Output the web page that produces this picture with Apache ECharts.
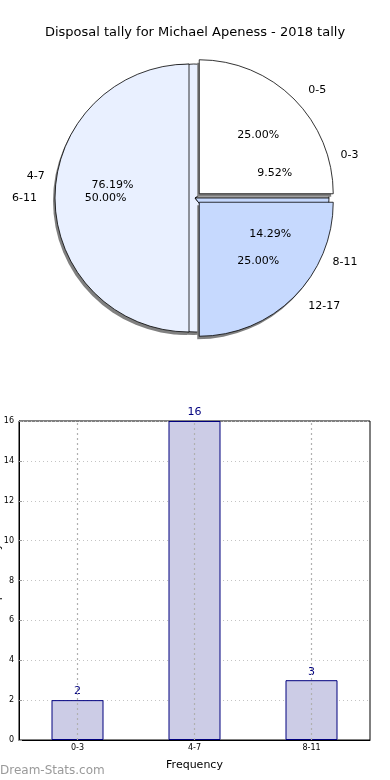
<!DOCTYPE html>
<html><head><meta charset="utf-8">
<script src="https://cdn.jsdelivr.net/npm/echarts@6/dist/echarts.min.js"></script>
<style>html,body{margin:0;padding:0;background:#fff}#c{width:390px;height:780px}</style>
</head><body><div id="c"></div>
<script>
var titleText = 'Disposal tally for Michael Apeness - 2018 tally';
var tallyCats = ['0-3', '4-7', '8-11'];
var tallyVals = [2, 16, 3];
var rangeCats = ['0-5', '6-11', '12-17'];
var rangeVals = [25, 50, 25];
var yTicks = [0, 2, 4, 6, 8, 10, 12, 14, 16];
var xName = 'Frequency';
var yName = 'Disposal Tally';
var watermark = 'Dream-Stats.com';

var sliceColors = ['#ffffff', '#e9f0ff', '#c6d9fe'];
var FONT = 'DejaVu Sans';
var C = [195, 198], R = 134;
var SC = [C[0] - 2, C[1] + 3];

function base(center, radius, sel, z) {
  return {
    type: 'pie', center: center, radius: radius, startAngle: 0, clockwise: false,
    selectedMode: sel ? 'multiple' : false, selectedOffset: 6, avoidLabelOverlap: false,
    animation: false, silent: true, z: z, emphasis: { disabled: true }
  };
}
function shadowSeries(cats, vals, sel, z) {
  var s = base(SC, [0, R], sel, z);
  s.data = cats.map(function (c, i) { return { name: c, value: vals[i], selected: sel }; });
  s.itemStyle = { color: '#808080', borderWidth: 0 };
  s.label = { show: false }; s.labelLine = { show: false };
  return s;
}
function pieSeries(cats, vals, sel, z) {
  var s = base(C, [0, R], sel, z);
  s.data = cats.map(function (c, i) {
    return { name: c, value: vals[i], selected: sel, itemStyle: { color: sliceColors[i] } };
  });
  s.itemStyle = { borderColor: '#000', borderWidth: 0.8 };
  s.label = { show: true, position: 'outside', fontFamily: FONT, fontSize: 11, color: '#000', formatter: '{b}' };
  s.labelLine = { show: false, length: 13, length2: 0 };
  return s;
}
function pctSeries(cats, vals, sel, z) {
  var s = base(C, [0.2 * R, R], sel, z);
  s.data = cats.map(function (c, i) { return { name: c, value: vals[i], selected: sel }; });
  s.itemStyle = { color: 'rgba(0,0,0,0)', borderWidth: 0 };
  s.label = { show: true, position: 'inside', fontFamily: FONT, fontSize: 11, color: '#000',
    formatter: function (p) { return p.percent.toFixed(2) + '%'; } };
  s.labelLine = { show: false };
  return s;
}

var chart = echarts.init(document.getElementById('c'), null, { renderer: 'canvas' });
chart.setOption({
  animation: false,
  backgroundColor: '#fff',
  title: { text: titleText, left: 'center', top: 21, textStyle: { fontFamily: FONT, fontSize: 13, fontWeight: 'normal', color: '#000' } },
  grid: { left: 19, right: 20, top: 421, bottom: 40, containLabel: false, outerBoundsMode: 'none',
    show: true, borderColor: '#000', borderWidth: 1, backgroundColor: 'transparent' },
  xAxis: {
    type: 'category', data: tallyCats, name: xName, nameLocation: 'middle', nameGap: 20,
    nameTextStyle: { fontFamily: FONT, fontSize: 11, color: '#000' },
    axisLine: { lineStyle: { color: '#000' } }, axisTick: { show: false },
    axisLabel: { fontFamily: FONT, fontSize: 8, color: '#000', margin: 4 },
    splitLine: { show: false }
  },
  yAxis: {
    type: 'value', min: yTicks[0], max: yTicks[yTicks.length - 1], interval: yTicks[1] - yTicks[0],
    name: yName, nameLocation: 'middle', nameGap: 16, nameRotate: 90, nameMoveOverlap: false,
    nameTextStyle: { fontFamily: FONT, fontSize: 11, color: '#000' },
    axisLine: { show: true, lineStyle: { color: '#000' } },
    axisTick: { show: true, inside: true, length: 3, lineStyle: { color: '#999' } },
    axisLabel: { fontFamily: FONT, fontSize: 8, color: '#000', margin: 5 },
    splitLine: { show: true, lineStyle: { color: '#c4c4c4', type: [1, 3], width: 1 } }
  },
  graphic: [{ type: 'text', left: 0, top: 765, style: { text: watermark, fontFamily: FONT, fontSize: 12, fill: '#9a9a9a' } }],
  series: [
    shadowSeries(tallyCats, tallyVals, false, 1),
    pieSeries(tallyCats, tallyVals, false, 2),
    shadowSeries(rangeCats, rangeVals, true, 3),
    pieSeries(rangeCats, rangeVals, true, 4),
    pctSeries(tallyCats, tallyVals, false, 5),
    pctSeries(rangeCats, rangeVals, true, 5),
    {
      type: 'bar', data: tallyVals, barWidth: 52, animation: false, silent: true,
      itemStyle: { color: '#ccccE6', borderColor: '#00007f', borderWidth: 1 },
      label: { show: true, position: 'top', distance: 3, fontFamily: FONT, fontSize: 11, color: '#00007f' },
      markLine: {
        silent: true, symbol: 'none', label: { show: false },
        lineStyle: { color: '#b0b0b0', type: [2, 3], width: 1.2 },
        data: tallyCats.map(function (c) { return { xAxis: c }; })
      }
    }
  ]
});
</script></body></html>
